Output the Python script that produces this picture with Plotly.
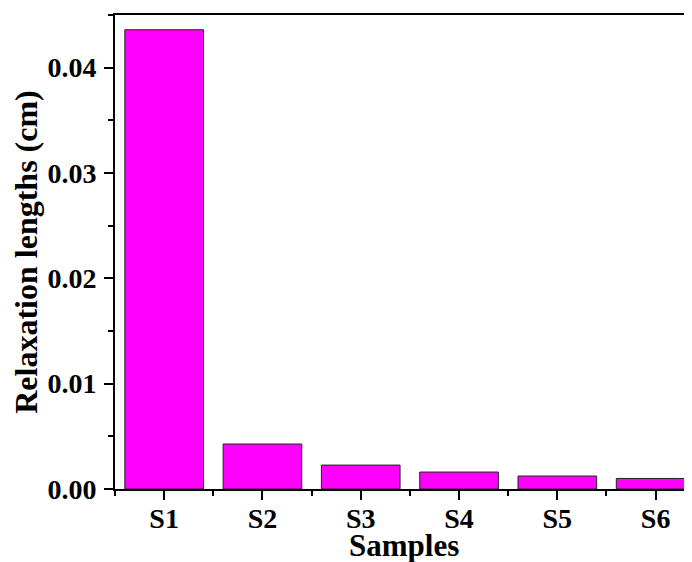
import plotly.graph_objects as go

samples = ["S1", "S2", "S3", "S4", "S5", "S6"]
relaxation_lengths = [0.0436, 0.00427, 0.00227, 0.00161, 0.00123, 0.00100]
y_tick_values = [0.00, 0.01, 0.02, 0.03, 0.04]
x_title = "Samples"
y_title = "Relaxation lengths (cm)"

x_pos = list(range(len(samples)))

font_family = "Liberation Serif, Times New Roman, serif"

fig = go.Figure(
    go.Bar(
        x=x_pos,
        y=relaxation_lengths,
        marker=dict(color="#FF00FF", line=dict(color="#222222", width=1)),
        width=0.8,
    )
)

# The page body adds an 8px margin, so the figure is sized to fill the rest of the window.
fig.update_layout(
    width=684,
    height=554,
    margin=dict(l=107, r=0, t=7, b=73),
    plot_bgcolor="white",
    paper_bgcolor="white",
    showlegend=False,
    font=dict(family=font_family, color="black"),
)

fig.update_xaxes(
    range=[-0.5, 5.37],
    tickvals=x_pos,
    ticktext=samples,
    ticks="outside",
    ticklen=9,
    tickwidth=2,
    tickcolor="black",
    ticklabelstandoff=-6,
    minor=dict(tick0=0.5, dtick=1, ticks="outside", ticklen=5, tickwidth=2, tickcolor="black"),
    showline=True,
    linewidth=2,
    linecolor="black",
    mirror=True,
    showgrid=False,
    zeroline=False,
    automargin=False,
    tickfont=dict(family=font_family, size=28, weight="bold", color="black"),
)

fig.add_annotation(
    text=x_title,
    xref="paper", yref="paper",
    x=0.5, y=0,
    xanchor="center", yanchor="top",
    yshift=-37,
    showarrow=False,
    font=dict(family=font_family, size=31, weight="bold", color="black"),
)

fig.update_yaxes(
    range=[0, 0.045],
    tickvals=y_tick_values,
    tickformat=".2f",
    ticks="outside",
    ticklen=9,
    tickwidth=2,
    tickcolor="black",
    ticklabelstandoff=2,
    minor=dict(dtick=0.005, tick0=0, ticks="outside", ticklen=5, tickwidth=2, tickcolor="black"),
    showline=True,
    linewidth=2,
    linecolor="black",
    mirror=False,
    showgrid=False,
    zeroline=False,
    automargin=False,
    tickfont=dict(family=font_family, size=28, weight="bold", color="black"),
    title=dict(text=y_title, font=dict(family=font_family, size=32, weight="bold", color="black"), standoff=6),
)

fig.write_html("out.html")
